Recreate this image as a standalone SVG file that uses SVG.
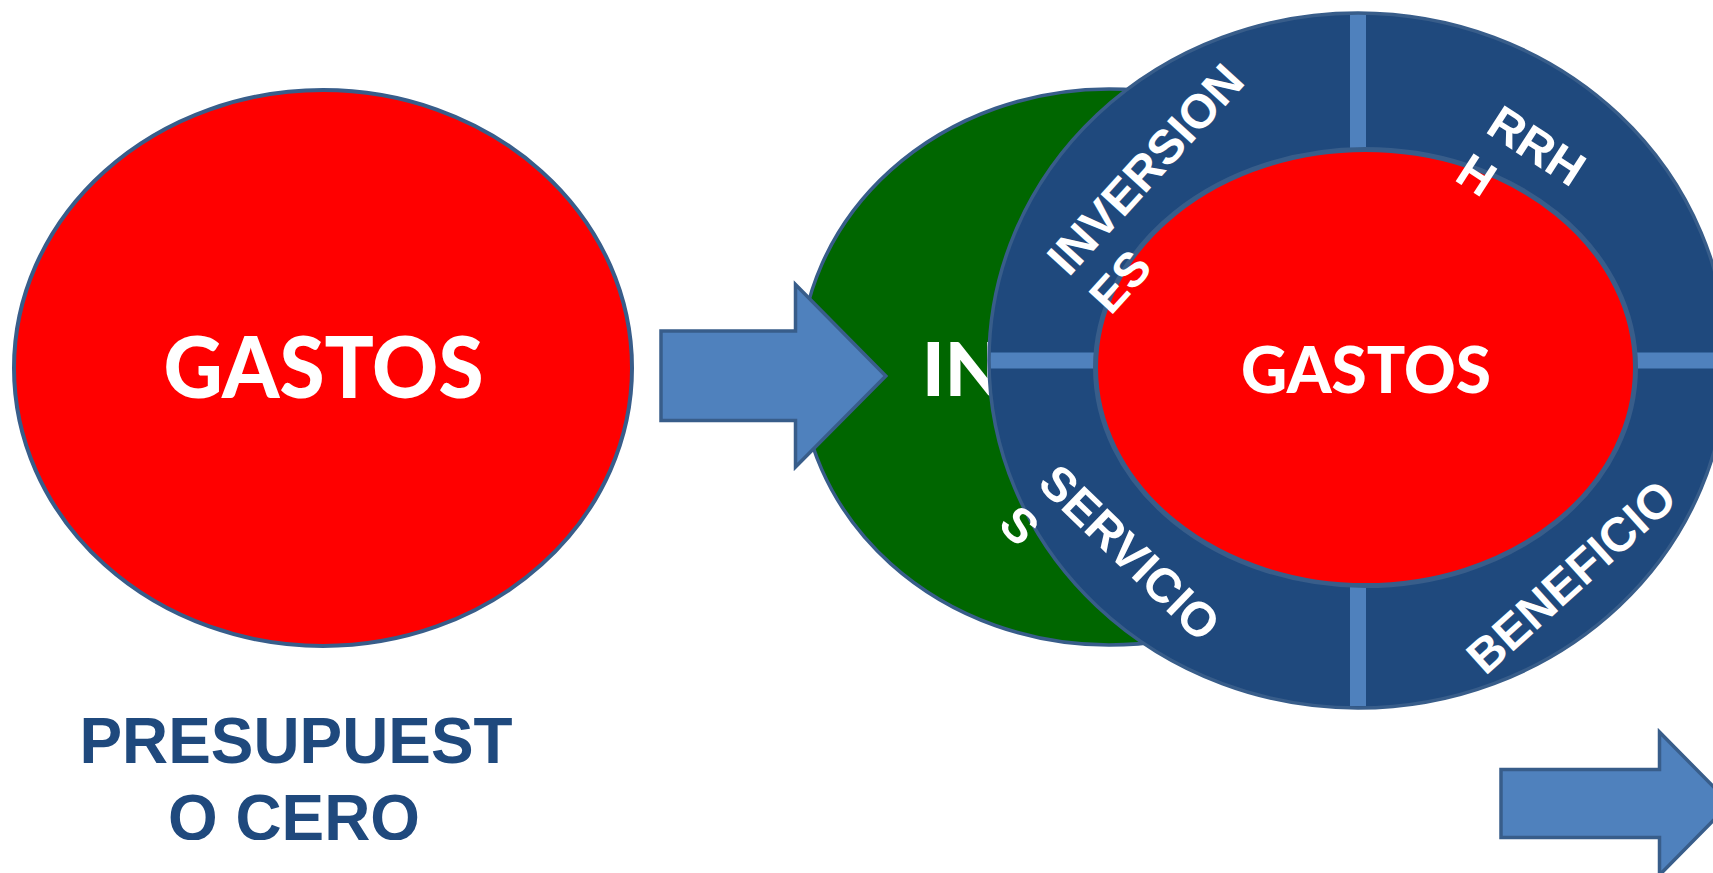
<svg xmlns="http://www.w3.org/2000/svg" width="1713" height="873" viewBox="0 0 1713 873">
<defs>
<style>
.cal{font-family:Lato,"Open Sans","Liberation Sans",sans-serif;font-weight:900;fill:#FFFFFF;}
.ring{font-family:"Liberation Sans",Arial,sans-serif;font-weight:700;font-size:48px;fill:#FFFFFF;}
.title{font-family:"Liberation Sans",Arial,sans-serif;font-weight:700;font-size:65px;fill:#1F497D;}
.arrow{fill:#4F81BD;stroke:#385D8A;stroke-width:3.5;stroke-miterlimit:10;}
.div{fill:#4F81BD;}
.edge{stroke:#385D8A;}
</style>
<clipPath id="clipTitle"><rect x="0" y="690" width="700" height="150"/></clipPath>
</defs>
<rect width="1713" height="873" fill="#FFFFFF"/>
<g id="node-gastos">
<ellipse cx="323" cy="368" rx="309" ry="278" fill="#FF0000" class="edge" stroke-width="4"/>
<text x="323.5" y="398" font-size="86" text-anchor="middle" class="cal" textLength="320" lengthAdjust="spacingAndGlyphs">GASTOS</text>
</g>
<g id="node-ingresos">
<ellipse cx="1109" cy="367" rx="309" ry="278" fill="#006600" class="edge" stroke-width="3.5"/>
<text x="922" y="396" font-size="75" class="cal">IN</text>
</g>
<g id="connectors">
<path class="arrow" d="M661,331 H795.5 V284.5 L885.8,376 L795.5,467 V420.5 H661 Z"/>
<path class="arrow" d="M1501,769.5 H1659.5 V732 L1730,803.5 L1659.5,875 V837.5 H1501 Z"/>
</g>
<g id="node-ring">
<ellipse cx="1358" cy="360.5" rx="369" ry="347.5" fill="#1F497D"/>
<rect class="div" x="1350" y="14" width="16" height="150"/>
<rect class="div" x="1350" y="570" width="16" height="136"/>
<rect class="div" x="990" y="352.5" width="120" height="16"/>
<rect class="div" x="1620" y="352.5" width="93" height="16"/>
<ellipse cx="1358" cy="360.5" rx="369" ry="347.5" fill="none" class="edge" stroke-width="3.5"/>
</g>
<g id="node-gastos-inner">
<ellipse cx="1365.5" cy="367.6" rx="270" ry="218" fill="#FF0000" class="edge" stroke-width="5"/>
<text x="1366" y="393" font-size="64" text-anchor="middle" class="cal" textLength="250" lengthAdjust="spacingAndGlyphs">GASTOS</text>
</g>
<g id="node-inversiones" transform="translate(1068.7,277.8) rotate(-47.6)">
<text class="ring" x="0" y="0">INVERSION</text>
<text class="ring" x="0" y="57">ES</text>
</g>
<g id="node-rrhh" transform="translate(1483.9,131.6) rotate(32.8)">
<text class="ring" x="0" y="0">RRH</text>
<text class="ring" x="0" y="57">H</text>
</g>
<g id="node-servicios" transform="translate(1036,485.2) rotate(44)">
<text class="ring" x="0" y="0">SERVICIO</text>
<text class="ring" x="0" y="57">S</text>
</g>
<g id="node-beneficio" transform="translate(1485.3,676.6) rotate(-42)">
<text class="ring" x="0" y="0">BENEFICIO</text>
</g>
<g id="label-presupuesto" clip-path="url(#clipTitle)">
<text class="title" x="296" y="763" text-anchor="middle" textLength="433" lengthAdjust="spacingAndGlyphs">PRESUPUEST</text>
<text class="title" x="294" y="840" text-anchor="middle" textLength="252" lengthAdjust="spacingAndGlyphs">O CERO</text>
</g>
</svg>
